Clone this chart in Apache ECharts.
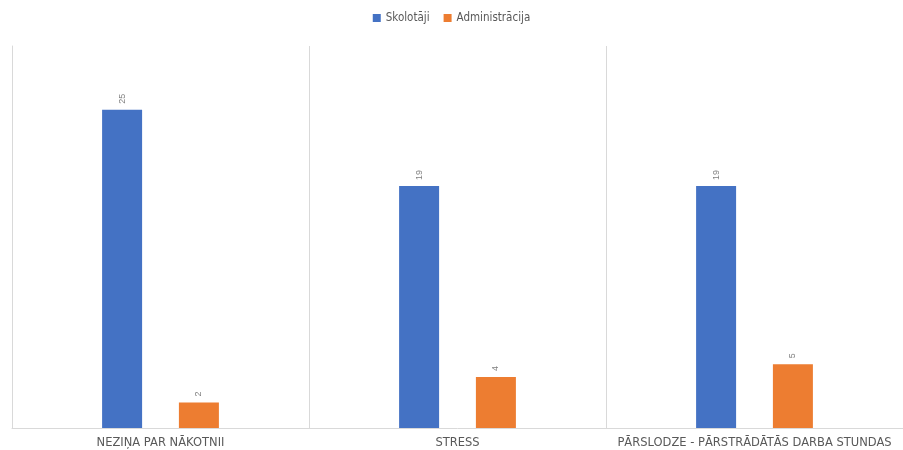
<!DOCTYPE html>
<html><head><meta charset="utf-8">
<script src="https://cdn.jsdelivr.net/npm/echarts@6/dist/echarts.min.js"></script>
<style>html,body{margin:0;padding:0;background:#fff}#c{width:903px;height:450px}</style>
</head><body><div id="c"></div>
<script>
const categories = ['NEZIŅA PAR NĀKOTNII', 'STRESS', 'PĀRSLODZE - PĀRSTRĀDĀTĀS DARBA STUNDAS'];
const seriesNames = ['Skolotāji', 'Administrācija'];
const skolotaji = [25, 19, 19];
const administracija = [2, 4, 5];

const chart = echarts.init(document.getElementById('c'));
const labelStyle = {show: true, position: 'top', rotate: 90, align: 'left', verticalAlign: 'middle', distance: 6, color: '#7f7f7f', fontSize: 9, fontFamily: 'Liberation Sans'};
chart.setOption({
  animation: false,
  color: ['#4472C4', '#ED7D31'],
  legend: {
    top: 7, left: 'center', itemWidth: 8, itemHeight: 8, itemGap: 14, icon: 'rect',
    textStyle: {color: '#595959', fontSize: 11.5, fontFamily: 'DejaVu Sans Condensed'},
    data: seriesNames
  },
  grid: {left: 12, right: 0, top: 46, bottom: 22, containLabel: false},
  xAxis: {
    type: 'category', data: categories,
    axisLine: {show: true, lineStyle: {color: '#d9d9d9', width: 1}},
    axisTick: {show: false},
    splitLine: {show: true, lineStyle: {color: '#d9d9d9', width: 1}},
    axisLabel: {color: '#595959', fontSize: 11.5, fontFamily: 'DejaVu Sans', margin: 9, interval: 0}
  },
  yAxis: {
    type: 'value', min: 0, max: 30, interval: 5, show: true,
    axisLine: {show: true, lineStyle: {color: '#d9d9d9'}},
    axisLabel: {show: false}, axisTick: {show: false}, splitLine: {show: false}
  },
  series: [
    {name: seriesNames[0], type: 'bar', data: skolotaji, barWidth: 40, barGap: '92%', label: labelStyle},
    {name: seriesNames[1], type: 'bar', data: administracija, barWidth: 40, barGap: '92%', label: labelStyle}
  ]
});
</script></body></html>
